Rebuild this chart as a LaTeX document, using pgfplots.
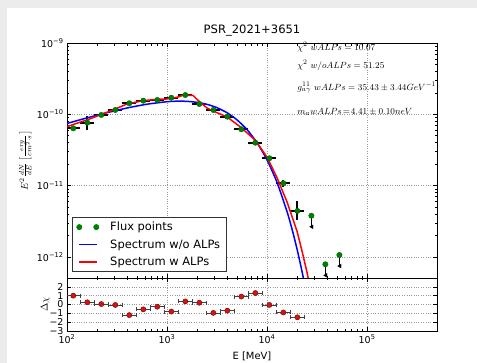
\documentclass[border=0pt]{standalone}
\usepackage{pgfplots}
\pgfplotsset{compat=1.18}
\usepackage{pgfplotstable}
\usepackage{fontspec}
\setmainfont{DejaVu Sans}
\definecolor{mplgreen}{rgb}{0,0.5,0}
\definecolor{mplblue}{rgb}{0,0,1}
\definecolor{mplred}{rgb}{1,0,0}
\definecolor{resred}{rgb}{0.82,0.08,0.08}
\definecolor{bggray}{rgb}{0.925,0.925,0.925}

% flux points: E [MeV], E^2 dN/dE, relative x/y errors
\pgfplotstableread{
E F exp exm eyp eym
115.6 6.37e-11 0.175 0.149 0.05 0.05
159.6 7.64e-11 0.175 0.149 0.25 0.20
220.3 9.80e-11 0.175 0.149 0.05 0.05
304.1 1.151e-10 0.175 0.149 0.05 0.05
419.8 1.429e-10 0.175 0.149 0.04 0.04
579.4 1.553e-10 0.175 0.149 0.04 0.04
799.8 1.589e-10 0.175 0.149 0.04 0.04
1104 1.710e-10 0.175 0.149 0.04 0.04
1524 1.866e-10 0.175 0.149 0.04 0.04
2104 1.396e-10 0.175 0.149 0.05 0.05
2904 1.151e-10 0.175 0.149 0.05 0.05
4009 9.27e-11 0.175 0.149 0.05 0.05
5534 6.17e-11 0.175 0.149 0.06 0.06
7638 4.00e-11 0.175 0.149 0.07 0.07
10544 2.42e-11 0.175 0.149 0.08 0.08
14555 1.079e-11 0.175 0.149 0.12 0.12
20091 4.42e-12 0.175 0.149 0.36 0.26
}\fluxdata

% upper limits
\pgfplotstableread{
E F eym
27733 3.79e-12 0.30
38282 7.89e-13 0.30
52845 1.067e-12 0.30
}\uldata

% residuals
\pgfplotstableread{
E R exp exm
115.6 1.0 0.175 0.149
159.6 0.25 0.175 0.149
220.3 0.05 0.175 0.149
304.1 -0.05 0.175 0.149
419.8 -1.2 0.175 0.149
579.4 -0.55 0.175 0.149
799.8 -0.25 0.175 0.149
1104 -0.8 0.175 0.149
1524 0.35 0.175 0.149
2104 0.2 0.175 0.149
2904 -0.95 0.175 0.149
4009 -0.7 0.175 0.149
5534 0.9 0.175 0.149
7638 1.3 0.175 0.149
10544 -0.05 0.175 0.149
14555 -0.9 0.175 0.149
20091 -1.45 0.175 0.149
}\resdata

% spectrum without ALPs
\pgfplotstableread{
E F
100 7.447e-11
158.5 8.913e-11
251.2 1.054e-10
398.1 1.227e-10
631 1.387e-10
1000 1.503e-10
1259 1.528e-10
1585 1.521e-10
1995 1.472e-10
2512 1.380e-10
3162 1.239e-10
3981 1.052e-10
5012 8.356e-11
6310 6.095e-11
7943 4.000e-11
10000 2.291e-11
12589 1.107e-11
15849 4.315e-12
17783 2.449e-12
19953 1.288e-12
22387 6.223e-13
25119 2.729e-13
}\bluedata

% spectrum with ALPs
\pgfplotstableread{
E F
100 6.714e-11
125.9 7.499e-11
158.5 8.337e-11
213.8 9.795e-11
288.4 1.151e-10
398.1 1.396e-10
575.4 1.552e-10
794.3 1.626e-10
1000 1.641e-10
1259 1.734e-10
1479 1.866e-10
1820 1.837e-10
2138 1.476e-10
2512 1.227e-10
2884 1.114e-10
3981 9.183e-11
5370 6.714e-11
7586 4.365e-11
10000 2.512e-11
12589 1.288e-11
15849 5.888e-12
19953 2.291e-12
22387 1.202e-12
25119 6.026e-13
28184 2.754e-13
}\reddata

\begin{document}
\begin{tikzpicture}
\fill[bggray] (0,0) rectangle (477bp,363bp);
\fill[white] (7bp,0) rectangle (477bp,355bp);

\pgfplotsset{
  every axis/.append style={
    scale only axis,
    width=370bp,
    xmode=log,
    xmin=100, xmax=5.0e5,
    tick align=inside,
    major tick length=4.5bp,
    minor tick length=2.5bp,
    axis line style={black, line width=0.8bp},
    every tick/.style={black, line width=0.6bp},
    grid=major,
    grid style={dotted, gray!80, line width=0.6bp},
    tick label style={font=\fontsize{9.5}{11}\selectfont},
    clip mode=individual,
  },
}

% main panel
\begin{axis}[
  at={(67bp,85bp)}, anchor=south west,
  height=235bp,
  ymode=log,
  ymin=5.07e-13, ymax=1e-9,
  xtick={100,1000,10000,100000},
  xticklabels={},
  ytick={1e-12,1e-11,1e-10,1e-9},
  yticklabels={10\textsuperscript{−12},10\textsuperscript{−11},10\textsuperscript{−10},10\textsuperscript{−9}},
  title={PSR\_2021+3651},
  title style={at={(axis description cs:0.5,1)}, anchor=base, yshift=4bp, font=\fontsize{11.6}{13}\selectfont},
  ylabel={$E^{2}\,\frac{dN}{dE}\left[\frac{erg}{cm^{2}\cdot s}\right]$},
  every axis y label/.style={at={(axis description cs:-0.113,0.5)}, rotate=90, anchor=center},
  legend image code/.code={\draw[#1] (0bp,0bp) -- (18bp,0bp);},
  legend style={at={(axis description cs:0.0135,0.0255)}, anchor=south west,
    draw=black!80, line width=0.7bp, fill=white,
    font=\fontsize{11.5}{13.8}\selectfont,
    inner xsep=4bp, inner ysep=2.5bp, row sep=3.5bp,
    /tikz/every odd column/.append style={column sep=9bp},
    cells={anchor=west}},
]
\addlegendimage{legend image code/.code={
  \fill[mplgreen] (0bp,0bp) circle (2.6bp);
  \fill[mplgreen] (17bp,0bp) circle (2.6bp);}}
\addlegendentry{Flux points}
\addlegendimage{draw=mplblue, line width=1.5bp}
\addlegendentry{Spectrum w/o ALPs}
\addlegendimage{draw=mplred, line width=1.5bp}
\addlegendentry{Spectrum w ALPs}

% error bars of the flux points
\addplot[draw=none, mark=none, forget plot,
  error bars/.cd, x dir=both, y dir=both, x explicit relative, y explicit relative,
  error bar style={black, line width=2bp}, error mark=none]
  table[x=E, y=F, x error plus=exp, x error minus=exm, y error plus=eyp, y error minus=eym] {\fluxdata};

% spectra
\addplot[mplblue, line width=1.5bp, smooth, tension=0.4, forget plot] table[x=E, y=F] {\bluedata};
\addplot[mplred, line width=1.5bp, forget plot] table[x=E, y=F] {\reddata};

% upper limits
\addplot[only marks, mark=*, mark size=2.7bp, mark options={fill=mplgreen, draw=mplgreen!80!black}, forget plot,
  error bars/.cd, y dir=minus, y explicit relative,
  error bar style={black, line width=0.8bp},
  error mark=triangle*, error mark options={rotate=180, black, mark size=2.2bp}]
  table[x=E, y=F, y error minus=eym] {\uldata};

% flux points
\addplot[only marks, mark=*, mark size=2.7bp, mark options={fill=mplgreen, draw=mplgreen!80!black}, forget plot]
  table[x=E, y=F] {\fluxdata};

\node[anchor=base west, inner sep=0, font=\fontsize{9.5}{11}\selectfont] at (axis description cs:0.622,0.967) {$\chi^{2}\ wALPs=10.07$};
\node[anchor=base west, inner sep=0, font=\fontsize{9.5}{11}\selectfont] at (axis description cs:0.622,0.892) {$\chi^{2}\ w/oALPs=51.25$};
\node[anchor=base west, inner sep=0, font=\fontsize{9.5}{11}\selectfont] at (axis description cs:0.622,0.800) {$g^{11}_{a\gamma}\ wALPs=35.43\pm3.44GeV^{-1}$};
\node[anchor=base west, inner sep=0, font=\fontsize{9.5}{11}\selectfont] at (axis description cs:0.622,0.694) {$m_{a}wALPs\!=\!4.41\pm0.10neV$};
\end{axis}

% residual panel
\begin{axis}[
  at={(67bp,32bp)}, anchor=south west,
  height=53bp,
  ymin=-3, ymax=3,
  xtick={100,1000,10000,100000},
  xticklabels={10\textsuperscript{2},10\textsuperscript{3},10\textsuperscript{4},10\textsuperscript{5}},
  ytick={-3,-2,-1,0,1,2},
  yticklabels={−3,−2,−1,0,1,2},
  xlabel={E [MeV]},
  xlabel style={font=\fontsize{11.5}{13}\selectfont},
  every axis x label/.style={at={(axis description cs:0.5,-0.485)}, anchor=center},
  ylabel={$\Delta\chi$},
  ylabel style={font=\fontsize{11}{13}\selectfont},
  every axis y label/.style={at={(axis description cs:-0.059,0.5)}, rotate=90, anchor=center},
]
\addplot[only marks, mark=*, mark size=2.6bp, mark options={fill=resred, draw=red!45!black, line width=0.4bp},
  error bars/.cd, x dir=both, x explicit relative,
  error bar style={black!75, line width=0.6bp},
  error mark=|, error mark options={black!75, mark size=2bp, line width=0.6bp}]
  table[x=E, y=R, x error plus=exp, x error minus=exm] {\resdata};
\end{axis}

\pgfresetboundingbox
\path (0,0) rectangle (477bp,363bp);
\end{tikzpicture}
\end{document}
